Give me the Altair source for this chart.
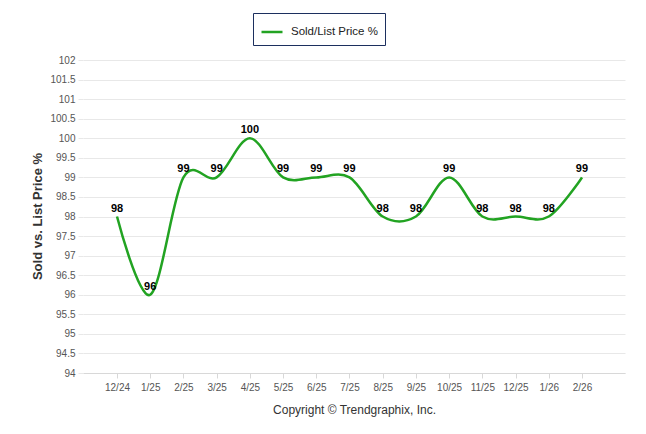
import altair as alt
import pandas as pd

months = ["12/24", "1/25", "2/25", "3/25", "4/25", "5/25", "6/25", "7/25",
          "8/25", "9/25", "10/25", "11/25", "12/25", "1/26", "2/26"]
values = [98, 96, 99, 99, 100, 99, 99, 99, 98, 98, 99, 98, 98, 98, 99]
series_name = "Sold/List Price %"
y_ticks = [94 + 0.5 * i for i in range(17)]

df = pd.DataFrame({
    "idx": list(range(len(months))),
    "month": months,
    "value": values,
    "series": [series_name] * len(months),
})

label_expr = "[" + ",".join(f"'{m}'" for m in months) + "][datum.value]"
FONT = "Liberation Sans"
GREEN = "#22a322"

x = alt.X(
    "idx:Q",
    scale=alt.Scale(domain=[-1.024, 15.295], nice=False, zero=False),
    axis=alt.Axis(
        values=list(range(len(months))),
        tickCount=40,
        labelExpr=label_expr,
        labelOverlap=False,
        labelFlush=False,
        grid=False,
        domainColor="#d8d8d8",
        tickColor="#d8d8d8",
        tickSize=5,
        labelPadding=4,
        labelFont=FONT,
        labelFontSize=10,
        labelColor="#555555",
        title="Copyright \u00a9 Trendgraphix, Inc.",
        titleFont=FONT,
        titleFontSize=12,
        titleFontWeight="normal",
        titleColor="#333333",
        titleY=36,
        titleBaseline="middle",
    ),
)
y = alt.Y(
    "value:Q",
    scale=alt.Scale(domain=[94, 102], nice=False, zero=False),
    axis=alt.Axis(
        values=y_ticks,
        tickCount=40,
        format="~f",
        labelOverlap=False,
        labelFlush=False,
        domain=False,
        gridColor="#e8e8e8",
        tickColor="#e8e8e8",
        tickSize=5,
        labelPadding=3,
        labelFont=FONT,
        labelFontSize=10,
        labelColor="#555555",
        title="Sold vs. List Price %",
        titleFont=FONT,
        titleFontSize=13,
        titleFontWeight="bold",
        titleColor="#333333",
        titleX=-46,
        titleY=156,
        titleBaseline="middle",
    ),
)

line = alt.Chart(df).mark_line(interpolate="cardinal", strokeWidth=2.5).encode(
    x=x,
    y=y,
    color=alt.Color(
        "series:N",
        scale=alt.Scale(range=[GREEN]),
        legend=alt.Legend(
            title=None,
            orient="none",
            legendX=170,
            legendY=-47,
            symbolType="stroke",
            symbolSize=441,
            symbolStrokeWidth=2.5,
            strokeColor="#1c2f5e",
            fillColor="white",
            padding=7,
            labelFont=FONT,
            labelFontSize=11.5,
            labelColor="#222222",
            labelOffset=7,
        ),
    ),
)

labels = alt.Chart(df).mark_text(
    font=FONT, fontSize=11, fontWeight="bold", color="black", baseline="bottom", dy=-3
).encode(x="idx:Q", y="value:Q", text=alt.Text("value:Q", format="d"))

chart = (line + labels).properties(
    width=542,
    height=313,
    autosize=alt.AutoSizeParams(type="none"),
    padding={"left": 75, "top": 52, "right": 13, "bottom": 53},
).configure_view(stroke=None)

chart.save("out.html", embed_options={"renderer": "svg", "actions": False})
